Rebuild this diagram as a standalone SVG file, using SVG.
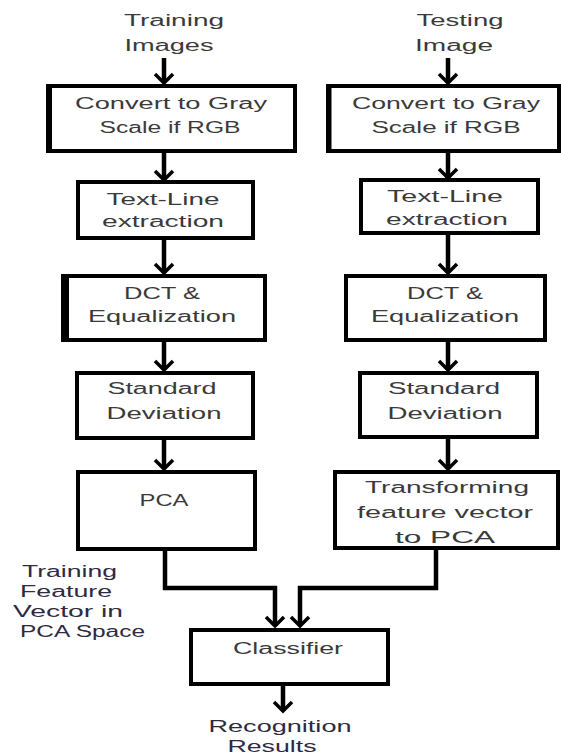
<svg xmlns="http://www.w3.org/2000/svg" width="561" height="755" viewBox="0 0 561 755">
<style>
.box{fill:#fff;stroke:#000;stroke-width:4}
.t{font-family:"Liberation Sans",Arial,sans-serif;font-size:16px;fill:#3a3a3a;text-anchor:middle}
.o{font-family:"Liberation Sans",Arial,sans-serif;font-size:16px;fill:#2e2a42}
.c{fill:none;stroke:#000;stroke-width:4.5}
.h{fill:none;stroke:#000;stroke-width:3.5}
</style>
<rect width="561" height="755" fill="#fff"/>
<g id="connectors">
<path class="c" d="M164 58V83M164 151V180M164 238V273M164 340V370M164 438V469"/>
<path class="c" d="M448 58V83M448 152V178M448 233V273M448 340V370M448 437V469"/>
<path class="c" d="M165 549V588H275V626M436 548V588H300V626M283 684V711"/>
<path class="h" d="M155 74L164 83L173 74M155 171L164 180L173 171M155 264L164 273L173 264M155 361L164 370L173 361M155 460L164 469L173 460"/>
<path class="h" d="M439 74L448 83L457 74M439 169L448 178L457 169M439 264L448 273L457 264M439 361L448 370L457 361M439 460L448 469L457 460"/>
<path class="h" d="M266 617L275 626L284 617M291 617L300 626L309 617M274 702L283 711L292 702"/>
</g>
<g id="label-training-images">
<text class="t" x="174" y="26" textLength="100" lengthAdjust="spacingAndGlyphs">Training</text>
<text class="t" x="169" y="51" textLength="89" lengthAdjust="spacingAndGlyphs">Images</text>
</g>
<g id="label-testing-image">
<text class="t" x="460" y="26" textLength="87" lengthAdjust="spacingAndGlyphs">Testing</text>
<text class="t" x="454" y="51" textLength="78" lengthAdjust="spacingAndGlyphs">Image</text>
</g>
<g id="gray-left">
<rect class="box" x="48" y="86" width="247" height="65"/>
<line x1="49" y1="84" x2="49" y2="153" stroke="#000" stroke-width="6"/>
<text class="t" x="171" y="109" textLength="192" lengthAdjust="spacingAndGlyphs">Convert to Gray</text>
<text class="t" x="170" y="133" textLength="141" lengthAdjust="spacingAndGlyphs">Scale if RGB</text>
</g>
<g id="gray-right">
<rect class="box" x="328" y="86" width="231" height="65"/>
<line x1="329" y1="84" x2="329" y2="153" stroke="#000" stroke-width="5"/>
<text class="t" x="446" y="109" textLength="188" lengthAdjust="spacingAndGlyphs">Convert to Gray</text>
<text class="t" x="446" y="133" textLength="149" lengthAdjust="spacingAndGlyphs">Scale if RGB</text>
</g>
<g id="textline-left">
<rect class="box" x="78" y="182" width="175" height="56"/>
<text class="t" x="163" y="205" textLength="113" lengthAdjust="spacingAndGlyphs">Text-Line</text>
<text class="t" x="163" y="227" textLength="122" lengthAdjust="spacingAndGlyphs">extraction</text>
</g>
<g id="textline-right">
<rect class="box" x="361" y="180" width="177" height="53"/>
<text class="t" x="445" y="202" textLength="116" lengthAdjust="spacingAndGlyphs">Text-Line</text>
<text class="t" x="447" y="225" textLength="122" lengthAdjust="spacingAndGlyphs">extraction</text>
</g>
<g id="dct-left">
<rect class="box" x="63" y="276" width="202" height="64"/>
<line x1="65" y1="274" x2="65" y2="342" stroke="#000" stroke-width="8"/>
<text class="t" x="162" y="299" textLength="76" lengthAdjust="spacingAndGlyphs">DCT &amp;</text>
<text class="t" x="162" y="322" textLength="148" lengthAdjust="spacingAndGlyphs">Equalization</text>
</g>
<g id="dct-right">
<rect class="box" x="346" y="276" width="199" height="64"/>
<text class="t" x="445" y="299" textLength="76" lengthAdjust="spacingAndGlyphs">DCT &amp;</text>
<text class="t" x="445" y="322" textLength="148" lengthAdjust="spacingAndGlyphs">Equalization</text>
</g>
<g id="std-left">
<rect class="box" x="77" y="373" width="176" height="65"/>
<text class="t" x="162" y="394" textLength="109" lengthAdjust="spacingAndGlyphs">Standard</text>
<text class="t" x="164" y="419" textLength="115" lengthAdjust="spacingAndGlyphs">Deviation</text>
</g>
<g id="std-right">
<rect class="box" x="360" y="373" width="177" height="64"/>
<text class="t" x="444" y="394" textLength="112" lengthAdjust="spacingAndGlyphs">Standard</text>
<text class="t" x="445" y="419" textLength="115" lengthAdjust="spacingAndGlyphs">Deviation</text>
</g>
<g id="pca-left">
<rect class="box" x="78" y="472" width="177" height="77"/>
<text class="t" x="164" y="506" textLength="49" lengthAdjust="spacingAndGlyphs">PCA</text>
</g>
<g id="transform-right">
<rect class="box" x="335" y="472" width="223" height="76"/>
<text class="t" x="447" y="493" textLength="164" lengthAdjust="spacingAndGlyphs">Transforming</text>
<text class="t" x="445" y="518" textLength="176" lengthAdjust="spacingAndGlyphs">feature vector</text>
<text class="t" x="445" y="543" textLength="100" lengthAdjust="spacingAndGlyphs">to PCA</text>
</g>
<g id="label-training-feature">
<text class="o" x="22" y="577" textLength="95" lengthAdjust="spacingAndGlyphs">Training</text>
<text class="o" x="20" y="597" textLength="92" lengthAdjust="spacingAndGlyphs">Feature</text>
<text class="o" x="13" y="617" textLength="110" lengthAdjust="spacingAndGlyphs">Vector in</text>
<text class="o" x="20" y="637" textLength="125" lengthAdjust="spacingAndGlyphs">PCA Space</text>
</g>
<g id="classifier">
<rect class="box" x="191" y="630" width="197" height="54"/>
<text class="t" x="288" y="654" textLength="110" lengthAdjust="spacingAndGlyphs">Classifier</text>
</g>
<g id="label-recognition">
<text class="t" x="280" y="732" textLength="143" lengthAdjust="spacingAndGlyphs" style="fill:#2e2a42">Recognition</text>
<text class="t" x="272" y="752" textLength="89" lengthAdjust="spacingAndGlyphs" style="fill:#2e2a42">Results</text>
</g>
</svg>
